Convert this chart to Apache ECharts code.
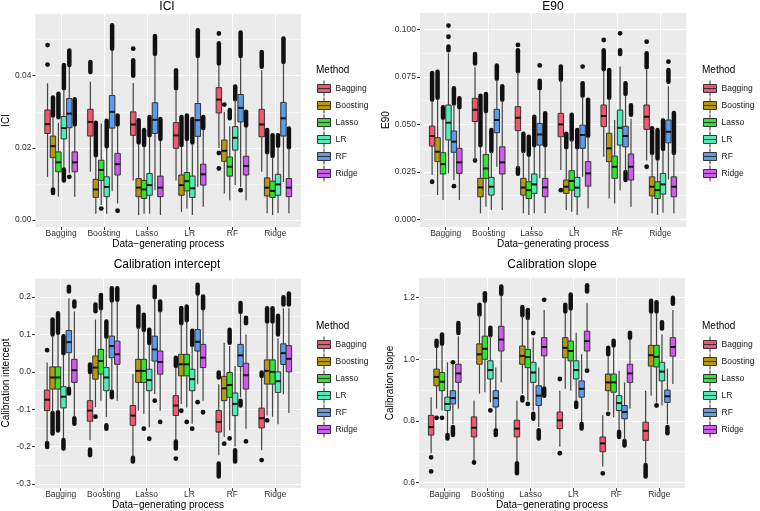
<!DOCTYPE html>
<html>
<head>
<meta charset="utf-8">
<script src="https://cdn.jsdelivr.net/npm/echarts@6/dist/echarts.min.js"></script>
<style>
  html, body { margin: 0; padding: 0; background: #fff; }
  #chart { width: 760px; height: 511px; }
</style>
</head>
<body>
<div id="chart"></div>
<script>
// Boxplots of four calibration metrics by data-generating process and method
const categories = ['Bagging', 'Boosting', 'Lasso', 'LR', 'RF', 'Ridge'];
const methods = ['Bagging', 'Boosting', 'Lasso', 'LR', 'RF', 'Ridge'];
const methodColors = ['#F2576F', '#B5980E', '#2EE52E', '#4FEBB8', '#5C9CEB', '#CE5CEB'];

// stats: one row per method, one box per data-generating process
// box = [lower whisker, Q1, median, Q3, upper whisker]
const iciStats = [
  [[0.0120, 0.0240, 0.0266, 0.0305, 0.0379], [0.0134, 0.0233, 0.0272, 0.0307, 0.0383], [0.0110, 0.0235, 0.0265, 0.0300, 0.0380], [0.0110, 0.0199, 0.0235, 0.0270, 0.0360], [0.0200, 0.0297, 0.0334, 0.0367, 0.0430], [0.0134, 0.0231, 0.0265, 0.0307, 0.0415]],
  [[0.0090, 0.0173, 0.0205, 0.0233, 0.0285], [0.0018, 0.0063, 0.0085, 0.0113, 0.0175], [0.0014, 0.0065, 0.0090, 0.0115, 0.0210], [0.0023, 0.0069, 0.0097, 0.0125, 0.0203], [0.0074, 0.0163, 0.0192, 0.0222, 0.0300], [0.0019, 0.0067, 0.0090, 0.0117, 0.0185]],
  [[0.0065, 0.0134, 0.0160, 0.0189, 0.0270], [0.0042, 0.0110, 0.0139, 0.0166, 0.0268], [0.0018, 0.0060, 0.0085, 0.0110, 0.0203], [0.0032, 0.0081, 0.0108, 0.0132, 0.0220], [0.0055, 0.0122, 0.0148, 0.0175, 0.0260], [0.0014, 0.0063, 0.0081, 0.0108, 0.0175]],
  [[0.0143, 0.0225, 0.0255, 0.0287, 0.0360], [0.0018, 0.0065, 0.0092, 0.0120, 0.0200], [0.0018, 0.0069, 0.0097, 0.0129, 0.0230], [0.0014, 0.0063, 0.0088, 0.0122, 0.0210], [0.0097, 0.0194, 0.0228, 0.0259, 0.0332], [0.0020, 0.0069, 0.0099, 0.0127, 0.0203]],
  [[0.0130, 0.0256, 0.0295, 0.0337, 0.0425], [0.0080, 0.0255, 0.0300, 0.0345, 0.0470], [0.0083, 0.0240, 0.0278, 0.0325, 0.0457], [0.0092, 0.0232, 0.0277, 0.0323, 0.0450], [0.0092, 0.0272, 0.0311, 0.0348, 0.0450], [0.0106, 0.0233, 0.0282, 0.0326, 0.0434]],
  [[0.0065, 0.0134, 0.0160, 0.0189, 0.0260], [0.0046, 0.0125, 0.0155, 0.0185, 0.0260], [0.0014, 0.0065, 0.0090, 0.0122, 0.0220], [0.0037, 0.0097, 0.0127, 0.0155, 0.0250], [0.0055, 0.0125, 0.0150, 0.0177, 0.0258], [0.0019, 0.0065, 0.0090, 0.0115, 0.0199]]
];
// outliers = [process index, method index, from, to] (a run of overlapping points when from < to)
const iciOutliers = [
  [0, 0, 0.0431, 0.0431], [0, 0, 0.0485, 0.0485], [0, 1, 0.0290, 0.0340], [0, 1, 0.0075, 0.0085],
  [0, 2, 0.0285, 0.0350], [0, 3, 0.0365, 0.0430], [0, 3, 0.0110, 0.0140], [0, 4, 0.0430, 0.0470],
  [0, 4, 0.0120, 0.0120], [0, 5, 0.0265, 0.0335],
  [1, 0, 0.0410, 0.0438], [1, 1, 0.0180, 0.0270], [1, 2, 0.0032, 0.0032], [1, 3, 0.0205, 0.0275],
  [1, 4, 0.0475, 0.0540], [1, 5, 0.0265, 0.0290], [1, 5, 0.0026, 0.0026],
  [2, 0, 0.0475, 0.0475], [2, 0, 0.0400, 0.0443], [2, 1, 0.0215, 0.0277], [2, 2, 0.0208, 0.0250],
  [2, 3, 0.0235, 0.0286], [2, 4, 0.0460, 0.0510], [2, 5, 0.0225, 0.0280],
  [3, 0, 0.0365, 0.0415], [3, 1, 0.0208, 0.0286], [3, 2, 0.0225, 0.0290], [3, 3, 0.0215, 0.0280],
  [3, 4, 0.0455, 0.0526], [3, 5, 0.0255, 0.0286],
  [4, 0, 0.0517, 0.0517], [4, 0, 0.0434, 0.0490], [4, 0, 0.0186, 0.0186], [4, 0, 0.0143, 0.0143],
  [4, 1, 0.0320, 0.0320], [4, 2, 0.0282, 0.0305], [4, 3, 0.0335, 0.0370], [4, 4, 0.0455, 0.0520],
  [4, 4, 0.0083, 0.0083], [4, 5, 0.0262, 0.0300],
  [5, 0, 0.0425, 0.0466], [5, 1, 0.0188, 0.0250], [5, 2, 0.0178, 0.0235], [5, 3, 0.0206, 0.0235],
  [5, 4, 0.0438, 0.0503], [5, 5, 0.0202, 0.0254]
];

const e90Stats = [
  [[0.0233, 0.0386, 0.0439, 0.0491, 0.0628], [0.0312, 0.0515, 0.0577, 0.0637, 0.0800], [0.0268, 0.0467, 0.0535, 0.0593, 0.0777], [0.0260, 0.0435, 0.0500, 0.0558, 0.0733], [0.0330, 0.0488, 0.0544, 0.0602, 0.0786], [0.0310, 0.0474, 0.0540, 0.0602, 0.0786]],
  [[0.0128, 0.0304, 0.0356, 0.0430, 0.0630], [0.0032, 0.0119, 0.0168, 0.0216, 0.0380], [0.0032, 0.0128, 0.0168, 0.0216, 0.0356], [0.0050, 0.0137, 0.0172, 0.0207, 0.0374], [0.0110, 0.0304, 0.0374, 0.0453, 0.0637], [0.0032, 0.0124, 0.0172, 0.0224, 0.0347]],
  [[0.0102, 0.0239, 0.0291, 0.0351, 0.0530], [0.0067, 0.0216, 0.0268, 0.0342, 0.0560], [0.0023, 0.0110, 0.0154, 0.0198, 0.0330], [0.0040, 0.0154, 0.0202, 0.0256, 0.0418], [0.0084, 0.0216, 0.0277, 0.0333, 0.0523], [0.0023, 0.0110, 0.0154, 0.0198, 0.0312]],
  [[0.0242, 0.0418, 0.0509, 0.0602, 0.0874], [0.0050, 0.0128, 0.0172, 0.0221, 0.0356], [0.0032, 0.0137, 0.0184, 0.0239, 0.0382], [0.0023, 0.0119, 0.0167, 0.0221, 0.0374], [0.0154, 0.0391, 0.0482, 0.0575, 0.0804], [0.0035, 0.0133, 0.0184, 0.0242, 0.0365]],
  [[0.0207, 0.0353, 0.0409, 0.0465, 0.0602], [0.0277, 0.0456, 0.0523, 0.0579, 0.0733], [0.0216, 0.0391, 0.0447, 0.0505, 0.0680], [0.0225, 0.0374, 0.0444, 0.0496, 0.0646], [0.0250, 0.0382, 0.0439, 0.0490, 0.0654], [0.0210, 0.0403, 0.0461, 0.0523, 0.0700]],
  [[0.0102, 0.0242, 0.0300, 0.0374, 0.0580], [0.0050, 0.0239, 0.0300, 0.0382, 0.0628], [0.0032, 0.0119, 0.0168, 0.0216, 0.0380], [0.0058, 0.0175, 0.0242, 0.0304, 0.0435], [0.0067, 0.0207, 0.0277, 0.0344, 0.0530], [0.0032, 0.0119, 0.0172, 0.0224, 0.0348]]
];
const e90Outliers = [
  [0, 0, 0.0630, 0.0770], [0, 0, 0.0198, 0.0198], [0, 1, 0.0640, 0.0777], [0, 2, 0.0535, 0.0590],
  [0, 3, 0.1020, 0.1020], [0, 3, 0.0961, 0.0961], [0, 3, 0.0890, 0.0910], [0, 4, 0.0610, 0.0690],
  [0, 4, 0.0175, 0.0175], [0, 5, 0.0590, 0.0637],
  [1, 0, 0.0820, 0.0870], [1, 0, 0.0310, 0.0310], [1, 1, 0.0390, 0.0650], [1, 2, 0.0570, 0.0660],
  [1, 3, 0.0360, 0.0470], [1, 4, 0.0740, 0.0810], [1, 5, 0.0630, 0.0700],
  [2, 0, 0.0918, 0.0918], [2, 0, 0.0780, 0.0890], [2, 0, 0.0240, 0.0270], [2, 1, 0.0360, 0.0450],
  [2, 2, 0.0340, 0.0435], [2, 3, 0.0390, 0.0540], [2, 4, 0.0810, 0.0810], [2, 4, 0.0690, 0.0730],
  [2, 5, 0.0390, 0.0558],
  [3, 0, 0.0735, 0.0804], [3, 0, 0.0154, 0.0154], [3, 1, 0.0380, 0.0450], [3, 2, 0.0420, 0.0550],
  [3, 3, 0.0380, 0.0470], [3, 4, 0.0804, 0.0804], [3, 4, 0.0650, 0.0716], [3, 5, 0.0440, 0.0630],
  [4, 0, 0.0944, 0.0944], [4, 0, 0.0790, 0.0890], [4, 1, 0.0640, 0.0786], [4, 3, 0.0979, 0.0979],
  [4, 3, 0.0870, 0.0890], [4, 4, 0.0660, 0.0716], [4, 4, 0.0207, 0.0250], [4, 5, 0.0550, 0.0600],
  [5, 0, 0.0935, 0.0935], [5, 0, 0.0800, 0.0874], [5, 0, 0.0277, 0.0277], [5, 1, 0.0350, 0.0480],
  [5, 2, 0.0320, 0.0470], [5, 3, 0.0370, 0.0520], [5, 4, 0.0830, 0.0830], [5, 4, 0.0724, 0.0786],
  [5, 5, 0.0350, 0.0560]
];

const interceptStats = [
  [[-0.188, -0.1035, -0.0743, -0.0487, 0.0248], [-0.183, -0.132, -0.1035, -0.077, -0.005], [-0.227, -0.143, -0.117, -0.090, -0.006], [-0.183, -0.1168, -0.090, -0.0637, 0.0115], [-0.223, -0.161, -0.134, -0.1035, -0.033], [-0.210, -0.150, -0.124, -0.097, -0.015]],
  [[-0.108, -0.046, -0.015, 0.0133, 0.0956], [-0.0947, -0.0195, 0.0115, 0.0425, 0.140], [-0.104, -0.0283, 0.0027, 0.0336, 0.118], [-0.086, -0.0106, 0.0204, 0.047, 0.127], [-0.174, -0.077, -0.044, -0.012, 0.078], [-0.117, -0.0326, 0.0027, 0.032, 0.130]],
  [[-0.104, -0.046, -0.015, 0.0133, 0.100], [-0.077, -0.006, 0.029, 0.0602, 0.166], [-0.112, -0.0283, 0.0027, 0.0336, 0.109], [-0.095, -0.0106, 0.0204, 0.047, 0.135], [-0.156, -0.068, -0.035, -0.0016, 0.069], [-0.120, -0.0326, 0.000, 0.032, 0.130]],
  [[-0.179, -0.0965, -0.0664, -0.0398, 0.047], [-0.121, -0.0504, -0.015, 0.0115, 0.091], [-0.148, -0.0504, -0.022, 0.007, 0.0735], [-0.139, -0.0504, -0.0195, 0.007, 0.069], [-0.200, -0.117, -0.0857, -0.0565, 0.016], [-0.140, -0.055, -0.025, 0.000, 0.090]],
  [[-0.042, 0.0513, 0.0796, 0.1106, 0.197], [-0.050, 0.038, 0.069, 0.0956, 0.188], [-0.059, 0.029, 0.060, 0.0956, 0.197], [-0.033, 0.0558, 0.0805, 0.1133, 0.206], [-0.068, 0.0143, 0.0443, 0.0735, 0.157], [-0.060, 0.020, 0.050, 0.075, 0.170]],
  [[-0.121, -0.0283, 0.0044, 0.0336, 0.162], [-0.077, 0.0204, 0.047, 0.0823, 0.188], [-0.104, -0.006, 0.0265, 0.0558, 0.162], [-0.077, 0.0115, 0.038, 0.0735, 0.166], [-0.152, -0.046, -0.009, 0.023, 0.100], [-0.110, 0.000, 0.035, 0.070, 0.170]]
];
const interceptOutliers = [
  [0, 0, 0.058, 0.058], [0, 0, -0.201, -0.190], [0, 1, 0.100, 0.140], [0, 1, -0.165, -0.110],
  [0, 2, 0.105, 0.157], [0, 2, -0.157, -0.108], [0, 3, 0.050, 0.0956], [0, 3, -0.205, -0.182],
  [0, 4, 0.215, 0.228], [0, 4, -0.058, -0.045], [0, 5, 0.175, 0.188], [0, 5, -0.139, -0.124],
  [1, 0, 0.000, 0.020], [1, 0, -0.223, -0.208], [1, 1, 0.162, 0.180], [1, 1, -0.120, -0.120],
  [1, 2, 0.170, 0.206], [1, 3, 0.094, 0.135], [1, 3, -0.152, -0.143], [1, 4, 0.191, 0.224],
  [1, 4, -0.068, -0.053], [1, 5, 0.193, 0.224],
  [2, 0, -0.240, -0.230], [2, 1, 0.121, 0.175], [2, 2, 0.112, 0.153], [2, 2, -0.152, -0.152],
  [2, 3, 0.077, 0.113], [2, 3, -0.179, -0.179], [2, 4, 0.200, 0.228], [2, 4, -0.077, -0.077],
  [2, 5, 0.165, 0.188], [2, 5, -0.134, -0.134],
  [3, 0, 0.016, 0.038], [3, 0, -0.205, -0.186], [3, 0, -0.232, -0.232], [3, 1, 0.130, 0.171],
  [3, 1, -0.104, -0.104], [3, 2, 0.138, 0.175], [3, 2, -0.134, -0.134], [3, 3, 0.072, 0.110],
  [3, 3, -0.152, -0.152], [3, 4, 0.210, 0.233], [3, 4, -0.081, -0.081], [3, 5, 0.170, 0.202],
  [3, 5, -0.108, -0.108],
  [4, 0, -0.015, -0.002], [4, 0, -0.280, -0.245], [4, 1, -0.192, -0.192], [4, 2, 0.078, 0.113],
  [4, 2, -0.178, -0.178], [4, 3, -0.240, -0.210], [4, 4, 0.160, 0.184], [4, 4, -0.090, -0.077],
  [4, 5, 0.130, 0.145], [4, 5, -0.186, -0.186],
  [5, 0, -0.011, -0.002], [5, 0, -0.236, -0.236], [5, 1, 0.135, 0.170], [5, 1, -0.130, -0.130],
  [5, 2, 0.135, 0.170], [5, 3, 0.100, 0.150], [5, 4, 0.180, 0.200], [5, 5, 0.180, 0.210]
];

const slopeStats = [
  [[0.695, 0.754, 0.780, 0.818, 0.877], [0.673, 0.748, 0.778, 0.813, 0.866], [0.668, 0.748, 0.775, 0.802, 0.866], [0.716, 0.775, 0.802, 0.829, 0.898], [0.652, 0.700, 0.727, 0.748, 0.818], [0.662, 0.737, 0.768, 0.796, 0.898]],
  [[0.840, 0.914, 0.943, 0.968, 1.040], [0.888, 0.984, 1.016, 1.050, 1.145], [0.888, 0.984, 1.011, 1.043, 1.140], [0.904, 1.005, 1.037, 1.070, 1.150], [0.834, 0.898, 0.925, 0.952, 1.010], [0.882, 0.978, 1.013, 1.045, 1.150]],
  [[0.834, 0.898, 0.927, 0.957, 1.045], [0.893, 1.000, 1.034, 1.075, 1.187], [0.866, 0.973, 1.007, 1.032, 1.134], [0.898, 0.995, 1.027, 1.059, 1.160], [0.812, 0.893, 0.925, 0.952, 1.040], [0.860, 0.975, 1.008, 1.045, 1.150]],
  [[0.760, 0.834, 0.855, 0.877, 0.990], [0.860, 0.936, 0.965, 0.995, 1.075], [0.834, 0.925, 0.957, 0.990, 1.070], [0.866, 0.936, 0.965, 0.995, 1.086], [0.770, 0.834, 0.858, 0.882, 0.963], [0.850, 0.930, 0.960, 0.990, 1.080]],
  [[0.790, 0.855, 0.874, 0.898, 0.984], [0.775, 0.845, 0.874, 0.898, 0.973], [0.780, 0.850, 0.882, 0.914, 0.973], [0.796, 0.877, 0.904, 0.930, 1.016], [0.738, 0.807, 0.829, 0.850, 0.925], [0.790, 0.860, 0.880, 0.900, 0.970]],
  [[0.840, 0.925, 0.954, 0.984, 1.075], [0.925, 1.027, 1.064, 1.107, 1.209], [0.909, 1.011, 1.040, 1.070, 1.160], [0.968, 1.027, 1.059, 1.091, 1.182], [0.840, 0.925, 0.954, 0.984, 1.065], [0.920, 1.010, 1.040, 1.070, 1.160]]
];
const slopeOutliers = [
  [0, 0, 0.682, 0.682], [0, 0, 0.636, 0.636], [0, 1, 1.043, 1.060], [0, 1, 0.810, 0.810],
  [0, 2, 1.050, 1.080], [0, 2, 0.810, 0.810], [0, 3, 0.743, 0.754], [0, 4, 0.990, 0.990],
  [0, 4, 0.754, 0.780], [0, 5, 1.085, 1.118],
  [1, 0, 0.665, 0.665], [1, 1, 1.145, 1.177], [1, 2, 1.190, 1.214], [1, 3, 1.078, 1.102],
  [1, 3, 0.834, 0.834], [1, 4, 0.754, 0.770], [1, 5, 1.212, 1.236],
  [2, 0, 0.630, 0.663], [2, 1, 1.143, 1.170], [2, 1, 0.866, 0.877], [2, 2, 1.134, 1.160],
  [2, 2, 0.855, 0.855], [2, 3, 1.085, 1.085], [2, 3, 0.807, 0.823], [2, 4, 0.743, 0.770],
  [2, 5, 1.193, 1.193], [2, 5, 0.882, 0.905],
  [3, 0, 0.936, 0.936], [3, 0, 0.695, 0.695], [3, 1, 1.155, 1.177], [3, 2, 1.165, 1.210],
  [3, 3, 0.845, 0.860], [3, 4, 0.775, 0.790], [3, 5, 1.220, 1.240], [3, 5, 0.963, 0.963],
  [4, 0, 0.630, 0.630], [4, 1, 1.016, 1.037], [4, 1, 0.823, 0.823], [4, 2, 1.045, 1.060],
  [4, 3, 0.748, 0.765], [4, 4, 0.720, 0.735], [4, 5, 1.070, 1.086],
  [5, 0, 0.620, 0.657], [5, 1, 1.155, 1.190], [5, 2, 1.155, 1.185], [5, 2, 0.850, 0.850],
  [5, 3, 1.100, 1.120], [5, 4, 0.760, 0.780], [5, 5, 1.180, 1.200]
];

// axis ticks (major labelled, minor only gridlines)
const iciTicks = [0, 0.02, 0.04];
const iciMinor = [0.01, 0.03, 0.05];
const e90Ticks = [0, 0.025, 0.05, 0.075, 0.1];
const e90Minor = [0.0125, 0.0375, 0.0625, 0.0875];
const interceptTicks = [-0.3, -0.2, -0.1, 0, 0.1, 0.2];
const interceptMinor = [-0.25, -0.15, -0.05, 0.05, 0.15, 0.25];
const slopeTicks = [0.6, 0.8, 1.0, 1.2];
const slopeMinor = [0.7, 0.9, 1.1];

const FONT = '"Liberation Sans", Arial, sans-serif';
const catIndex = categories.map((c, i) => i);

const panels = [
  { title: 'ICI', stats: iciStats, outliers: iciOutliers, ticks: iciTicks, minor: iciMinor, digits: 2,
    min: -0.0019, max: 0.0571, nameGap: 21,
    grid: { left: 33, width: 268, top: 14, height: 213 }, titleX: 167, titleY: 1, legendX: 317, legendY: 80 },
  { title: 'E90', stats: e90Stats, outliers: e90Outliers, ticks: e90Ticks, minor: e90Minor, digits: 3,
    min: -0.004, max: 0.1086, nameGap: 24,
    grid: { left: 420, width: 266, top: 13, height: 214 }, titleX: 553, titleY: 1, legendX: 703, legendY: 80 },
  { title: 'Calibration intercept', stats: interceptStats, outliers: interceptOutliers, ticks: interceptTicks, minor: interceptMinor, digits: 1,
    min: -0.311, max: 0.2512, nameGap: 24,
    grid: { left: 34, width: 267, top: 278, height: 212 }, titleX: 167, titleY: 259, legendX: 317, legendY: 336 },
  { title: 'Calibration slope', stats: slopeStats, outliers: slopeOutliers, ticks: slopeTicks, minor: slopeMinor, digits: 1,
    min: 0.582, max: 1.2637, nameGap: 24,
    grid: { left: 419, width: 266, top: 278, height: 212 }, titleX: 552, titleY: 259, legendX: 703, legendY: 336 }
];

// ggplot-style dodge: six adjacent boxes centred on the category
const BOX_FRAC = 0.127;
function dodgeX(api, cat, m) {
  const band = api.size([1, 0])[0];
  const w = band * BOX_FRAC;
  return { cx: api.coord([cat, 0])[0] + (m - 2.5) * w, w: w };
}

function boxRenderer(m) {
  return function (params, api) {
    const cat = api.value(0);
    const d = dodgeX(api, cat, m);
    const ys = [1, 2, 3, 4, 5].map(i => api.coord([cat, api.value(i)])[1]);
    const x0 = d.cx - d.w / 2;
    const whisker = { stroke: '#444', lineWidth: 1.2 };
    return {
      type: 'group',
      children: [
        { type: 'line', shape: { x1: d.cx, y1: ys[0], x2: d.cx, y2: ys[1] }, style: whisker },
        { type: 'line', shape: { x1: d.cx, y1: ys[3], x2: d.cx, y2: ys[4] }, style: whisker },
        { type: 'rect', shape: { x: x0, y: ys[3], width: d.w, height: ys[1] - ys[3] },
          style: { fill: api.visual('color'), stroke: '#333', lineWidth: 1 } },
        { type: 'line', shape: { x1: x0, y1: ys[2], x2: x0 + d.w, y2: ys[2] },
          style: { stroke: '#111', lineWidth: 2 } }
      ]
    };
  };
}

function outlierRenderer(params, api) {
  const cat = api.value(0);
  const d = dodgeX(api, cat, api.value(1));
  const y1 = api.coord([cat, api.value(2)])[1];
  const y2 = api.coord([cat, api.value(3)])[1];
  if (Math.abs(y1 - y2) < 0.5) {
    return { type: 'circle', shape: { cx: d.cx, cy: y1, r: 2.4 }, style: { fill: '#111' } };
  }
  return { type: 'line', shape: { x1: d.cx, y1: y1, x2: d.cx, y2: y2 },
    style: { stroke: '#111', lineWidth: 4.5, lineCap: 'round' } };
}

const grids = [], xAxes = [], yAxes = [], series = [], titles = [], legends = [];
panels.forEach((p, i) => {
  grids.push(Object.assign({ show: true, backgroundColor: '#EBEBEB', borderWidth: 0 }, p.grid));
  xAxes.push({
    gridIndex: i, type: 'value', min: -0.6, max: 5.6,
    name: 'Data\u2212generating process', nameLocation: 'middle', nameGap: 9,
    nameTextStyle: { fontSize: 10, color: '#000', fontFamily: FONT },
    axisLine: { show: false, onZero: false },
    axisTick: { show: true, length: 3, lineStyle: { color: '#333' }, customValues: catIndex },
    axisLabel: { customValues: catIndex, formatter: v => categories[Math.round(v)],
      fontSize: 8.5, color: '#333', margin: 2, fontFamily: FONT },
    splitLine: { show: true, lineStyle: { color: '#fff', width: 1 } }
  });
  yAxes.push({
    gridIndex: i, type: 'value', min: p.min, max: p.max,
    name: p.title, nameLocation: 'middle', nameGap: p.nameGap,
    nameTextStyle: { fontSize: 10, color: '#000', fontFamily: FONT },
    axisLine: { show: false, onZero: false },
    axisTick: { show: true, length: 3, lineStyle: { color: '#333' }, customValues: p.ticks },
    axisLabel: { customValues: p.ticks, formatter: v => v.toFixed(p.digits),
      fontSize: 8.5, color: '#333', margin: 4, fontFamily: FONT },
    splitLine: { show: true, lineStyle: { color: '#fff', width: 1.1 } }
  });
  yAxes.push({
    gridIndex: i, type: 'value', min: p.min, max: p.max, position: 'left',
    axisLine: { show: false, onZero: false },
    axisTick: { show: false, customValues: p.minor },
    axisLabel: { show: false, customValues: p.minor },
    splitLine: { show: true, lineStyle: { color: '#fff', width: 0.5 } }
  });

  series.push({
    type: 'custom', xAxisIndex: i, yAxisIndex: 2 * i, z: 2,
    renderItem: outlierRenderer, data: p.outliers, silent: true
  });
  methods.forEach((m, mi) => {
    series.push({
      type: 'custom', name: m, xAxisIndex: i, yAxisIndex: 2 * i, z: 3,
      itemStyle: { color: methodColors[mi], borderColor: '#333' },
      renderItem: boxRenderer(mi),
      data: p.stats[mi].map((s, c) => [c].concat(s))
    });
  });

  titles.push({ text: p.title, left: p.titleX, top: p.titleY, textAlign: 'center', padding: 0,
    textStyle: { fontSize: 12, fontWeight: 'normal', color: '#000', fontFamily: FONT } });
  titles.push({ text: 'Method', left: p.legendX - 1, top: p.legendY - 15, padding: 0,
    textStyle: { fontSize: 10, fontWeight: 'normal', color: '#000', fontFamily: FONT } });
  legends.push({
    data: methods, orient: 'vertical', left: p.legendX, top: p.legendY, padding: 0,
    itemWidth: 13, itemHeight: 16, itemGap: 0, itemTextGap: 7, selectedMode: false,
    icon: 'path://M6.5,0L6.5,4M0,4L13,4L13,8L0,8ZM0,8L13,8L13,12L0,12ZM6.5,12L6.5,16',
    itemStyle: { borderColor: '#333', borderWidth: 1 },
    textStyle: { fontSize: 8.5, color: '#1a1a1a', fontFamily: FONT }
  });
});

const chart = echarts.init(document.getElementById('chart'), null, { renderer: 'canvas' });
chart.setOption({
  animation: false,
  backgroundColor: '#fff',
  textStyle: { fontFamily: FONT },
  title: titles,
  legend: legends,
  grid: grids,
  xAxis: xAxes,
  yAxis: yAxes,
  series: series
});
</script>
</body>
</html>
